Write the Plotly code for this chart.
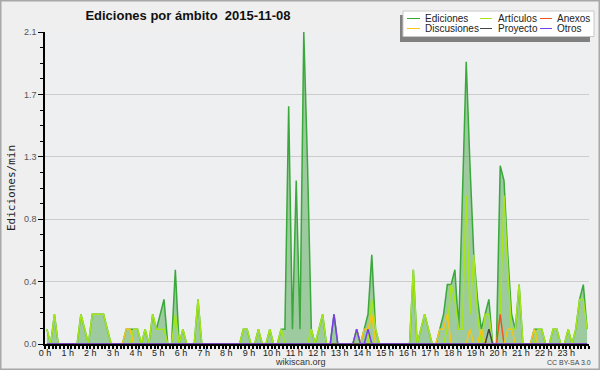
import plotly.graph_objects as go

# 10-minute bins (144 per day), values in edits per minute
bin_hours = [(i + 0.5) / 6 for i in range(144)]

ediciones = [
    0.1, 0, 0.2, 0, 0, 0, 0, 0, 0, 0.2, 0.1, 0,
    0.2, 0.2, 0.2, 0.2, 0.1, 0, 0, 0, 0, 0.1, 0.1, 0.1,
    0.1, 0, 0.1, 0, 0.2, 0.1, 0.2, 0.3, 0, 0, 0.5, 0,
    0.1, 0, 0, 0, 0.3, 0, 0, 0, 0, 0, 0, 0,
    0, 0, 0, 0, 0.1, 0.1, 0, 0, 0.1, 0, 0, 0.1,
    0, 0, 0.1, 0.1, 1.6, 0.1, 1.1, 0.1, 2.1, 1.2, 0.1, 0,
    0.1, 0.2, 0, 0, 0.2, 0, 0, 0, 0, 0, 0.1, 0,
    0.1, 0.2, 0.6, 0.1, 0, 0, 0, 0, 0, 0, 0, 0,
    0, 0.5, 0, 0.1, 0.2, 0.1, 0, 0, 0.1, 0.2, 0.4, 0.4,
    0.5, 0.1, 1.0, 1.9, 1.2, 0.6, 0.3, 0.1, 0.2, 0.3, 0, 0,
    1.2, 1.1, 0.6, 0.2, 0.1, 0.4, 0, 0, 0, 0.1, 0.1, 0.1,
    0, 0, 0.1, 0.1, 0, 0, 0.1, 0, 0.1, 0.3, 0.4, 0.1,
]
articulos = [
    0.1, 0, 0.2, 0, 0, 0, 0, 0, 0, 0.2, 0.1, 0,
    0.2, 0.2, 0.2, 0.2, 0.1, 0, 0, 0, 0, 0, 0, 0.1,
    0.1, 0, 0.1, 0, 0.2, 0.1, 0.1, 0.1, 0, 0, 0.2, 0,
    0.1, 0, 0, 0, 0.3, 0, 0, 0, 0, 0, 0, 0,
    0, 0, 0, 0, 0.1, 0.1, 0, 0, 0.1, 0, 0, 0.1,
    0, 0, 0.1, 0, 0, 0, 0, 0, 0, 0, 0.1, 0,
    0.1, 0.2, 0, 0, 0, 0, 0, 0, 0, 0, 0.1, 0,
    0, 0, 0.3, 0.1, 0, 0, 0, 0, 0, 0, 0, 0,
    0, 0.5, 0, 0.1, 0.2, 0.1, 0, 0, 0, 0, 0.1, 0.4,
    0.3, 0.1, 0.1, 1.0, 0.2, 0.6, 0.2, 0, 0.2, 0.2, 0, 0,
    0.2, 1.0, 0.5, 0.1, 0.1, 0.4, 0, 0, 0, 0, 0.1, 0.1,
    0, 0, 0.1, 0.1, 0, 0, 0.1, 0, 0.1, 0.3, 0.3, 0.1,
]
anexos = [0] * 120 + [0.2] + [0] * 23
discusiones = [
    0, 0, 0, 0, 0, 0, 0, 0, 0, 0, 0, 0,
    0, 0, 0, 0, 0, 0, 0, 0, 0, 0.1, 0.1, 0,
    0, 0, 0, 0, 0, 0, 0, 0, 0, 0, 0, 0,
    0, 0, 0, 0, 0, 0, 0, 0, 0, 0, 0, 0,
    0, 0, 0, 0, 0, 0, 0, 0, 0, 0, 0, 0,
    0, 0, 0, 0, 0, 0, 0, 0, 0, 0, 0, 0,
    0, 0, 0, 0, 0, 0, 0, 0, 0, 0, 0, 0,
    0.1, 0.1, 0.2, 0, 0, 0, 0, 0, 0, 0, 0, 0,
    0, 0, 0, 0, 0, 0, 0, 0, 0.1, 0.1, 0.2, 0,
    0, 0, 0, 0, 0.1, 0, 0, 0.1, 0, 0, 0, 0,
    0, 0, 0.1, 0.1, 0, 0, 0, 0, 0, 0.1, 0, 0,
    0, 0, 0, 0, 0, 0, 0, 0, 0, 0, 0, 0,
]
proyecto = [0] * 117 + [0.1] + [0] * 26
otros = [0] * 76 + [0.2] + [0] * 5 + [0.1] + [0] * 2 + [0.1] + [0] * 58

hour_ticks = list(range(24))
hour_labels = [f"{h} h" for h in hour_ticks]
y_ticks = [0, 0.42, 0.84, 1.26, 1.68, 2.1]
y_labels = ["0.0", "0.4", "0.8", "1.3", "1.7", "2.1"]

series = [
    ("Ediciones", ediciones, "#3aa83a"),
    ("Artículos", articulos, "#a4e61a"),
    ("Anexos", anexos, "#ee5522"),
    ("Discusiones", discusiones, "#f5c518"),
    ("Proyecto", proyecto, "#444444"),
    ("Otros", otros, "#7a3ee8"),
]

FONT = "Liberation Sans, Arial, sans-serif"

fig = go.Figure()
for k, (name, vals, col) in enumerate(series):
    fig.add_trace(go.Scatter(
        x=bin_hours, y=vals, name=name, mode="lines",
        line=dict(color=col, width=1.5),
        fill="tozeroy" if k == 0 else None,
        fillcolor="rgba(60,160,60,0.45)" if k == 0 else None,
        showlegend=False, hoverinfo="skip",
    ))

L, R, T, B = 45, 11, 32, 26
W, H = 600, 370
pw, ph = W - L - R, H - T - B


def px(x):
    return (x - L) / pw


def py(y):
    return (H - B - y) / ph


shapes = [
    # outer border
    dict(type="rect", xref="paper", yref="paper", x0=px(0.75), x1=px(599.25), y0=py(369.25), y1=py(0.75),
         line=dict(color="#a8a8a8", width=1.5), layer="below"),
    # legend shadow & box
    dict(type="rect", xref="paper", yref="paper", x0=px(400), x1=px(590), y0=py(42), y1=py(15),
         fillcolor="#808080", line=dict(width=0)),
    dict(type="rect", xref="paper", yref="paper", x0=px(403), x1=px(594), y0=py(36.5), y1=py(11),
         fillcolor="white", line=dict(color="#c8c8c8", width=1)),
]
annotations = []
cols = [(407, 420, 423), (480, 492, 496), (540, 552, 555)]
rows = [18.5, 28.5]
order = ["Ediciones", "Artículos", "Anexos", "Discusiones", "Proyecto", "Otros"]
cmap = {n: c for n, _, c in series}
for idx, name in enumerate(order):
    r, c = divmod(idx, 3)
    x0, x1, xt = cols[c]
    yy = rows[r]
    shapes.append(dict(type="line", xref="paper", yref="paper", x0=px(x0), x1=px(x1), y0=py(yy), y1=py(yy),
                       line=dict(color=cmap[name], width=1)))
    annotations.append(dict(xref="paper", yref="paper", x=px(xt), y=py(yy), text=name, showarrow=False,
                            xanchor="left", yanchor="middle", font=dict(family=FONT, size=10, color="#222")))

annotations.append(dict(xref="paper", yref="paper", x=px(300), y=py(362), text="wikiscan.org", showarrow=False,
                        xanchor="center", yanchor="middle", font=dict(family=FONT, size=9, color="#333")))
annotations.append(dict(xref="paper", yref="paper", x=px(569), y=py(362), text="CC BY-SA 3.0", showarrow=False,
                        xanchor="center", yanchor="middle", font=dict(family=FONT, size=7, color="#444")))
annotations.append(dict(xref="paper", yref="paper", x=px(11), y=py(188), text="Ediciones/min", showarrow=False,
                        textangle=-90, xanchor="center", yanchor="middle",
                        font=dict(family="DejaVu Sans Mono", size=11, color="#222")))

fig.update_layout(
    width=W, height=H,
    margin=dict(l=L, r=R, t=T, b=B, autoexpand=False),
    paper_bgcolor="#efefef",
    plot_bgcolor="#edeff1",
    title=dict(text="<b>Ediciones por ámbito  2015-11-08</b>", x=px(188), xref="paper", xanchor="center",
               y=1 - 15 / H, yref="container", yanchor="middle",
               font=dict(family=FONT, size=13, color="#111")),
    shapes=shapes,
    annotations=annotations,
    showlegend=False,
    xaxis=dict(range=[0, 24], tickvals=hour_ticks, ticktext=hour_labels, showgrid=False, zeroline=False,
               automargin=False,
               showline=True, linecolor="black", linewidth=1.5, ticks="outside", ticklen=3, tickcolor="black",
               tickwidth=1.5, ticklabelstandoff=-4, tickfont=dict(family=FONT, size=9, color="#222"),
               minor=dict(dtick=1 / 6, tick0=0, ticks="outside", ticklen=3, tickcolor="black", tickwidth=1.5)),
    yaxis=dict(range=[0, 2.1], tickvals=y_ticks, ticktext=y_labels, showgrid=True, gridcolor="#cccccc",
               gridwidth=1, zeroline=False, showline=True, linecolor="black", linewidth=1.5,
               automargin=False,
               ticks="outside", ticklen=5, tickcolor="black", tickwidth=1,
               tickfont=dict(family=FONT, size=9, color="#555"),
               minor=dict(dtick=0.105, tick0=0, ticks="outside", ticklen=3, tickcolor="black", showgrid=False)),
)

fig.write_html("out.html", config={"displayModeBar": False},
               post_script="document.body.style.margin='0';document.body.style.overflow='hidden';")
